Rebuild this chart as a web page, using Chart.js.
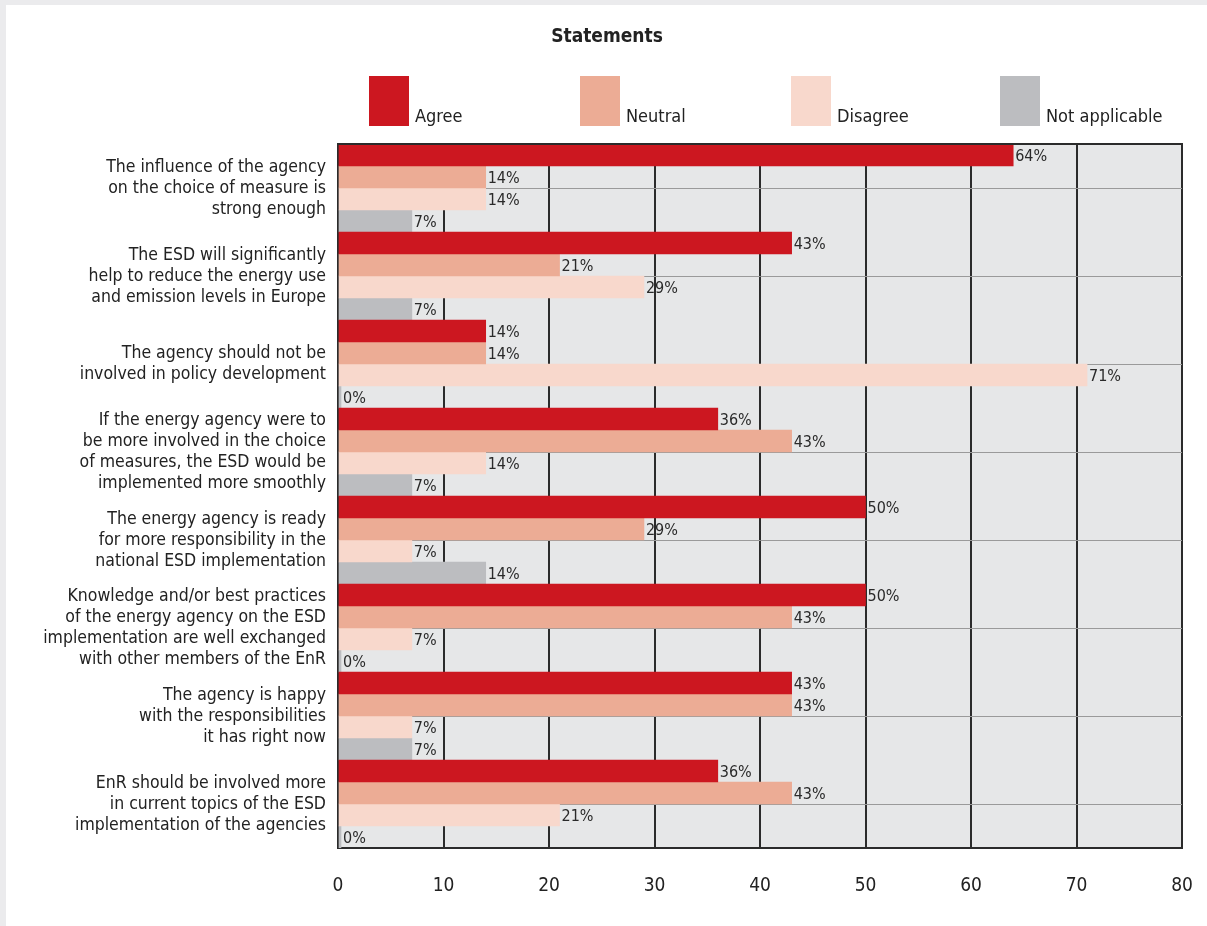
<!DOCTYPE html>
<html>
<head>
<meta charset="utf-8">
<title>Statements</title>
<script src="https://cdn.jsdelivr.net/npm/chart.js@4/dist/chart.umd.min.js"></script>
<style>
  html, body { margin: 0; padding: 0; background: #ebebed; overflow: hidden; }
  #caja { position: absolute; left: 6px; top: 5px; width: 1201px; height: 921px; background: #fff; }
</style>
</head>
<body>
<div id="caja"><canvas id="miGrafico"></canvas></div>
<script>
// Datos
var afirmaciones = [
  ['The influence of the agency', 'on the choice of measure is', 'strong enough'],
  ['The ESD will significantly', 'help to reduce the energy use', 'and emission levels in Europe'],
  ['The agency should not be', 'involved in policy development'],
  ['If the energy agency were to', 'be more involved in the choice', 'of measures, the ESD would be', 'implemented more smoothly'],
  ['The energy agency is ready', 'for more responsibility in the', 'national ESD implementation'],
  ['Knowledge and/or best practices', 'of the energy agency on the ESD', 'implementation are well exchanged', 'with other members of the EnR'],
  ['The agency is happy', 'with the responsibilities', 'it has right now'],
  ['EnR should be involved more', 'in current topics of the ESD', 'implementation of the agencies']
];
var agree = [64, 43, 14, 36, 50, 50, 43, 36];
var neutral = [14, 21, 14, 43, 29, 43, 43, 43];
var disagree = [14, 29, 71, 14, 7, 7, 7, 21];
var noAplica = [7, 7, 0, 7, 14, 0, 7, 0];
var ticksX = [0, 10, 20, 30, 40, 50, 60, 70, 80];

var fuente = '"DejaVu Sans Condensed", "DejaVu Sans", sans-serif';
var oscuro = '#2b2b2b';

// fondo gris del area, borde superior, titulo y leyenda
var extras = {
  id: 'extras',
  beforeDraw: function (chart) {
    var ctx = chart.ctx, a = chart.chartArea;
    ctx.save();
    ctx.fillStyle = '#e6e7e8';
    ctx.fillRect(a.left, a.top, a.right - a.left, a.bottom - a.top);
    ctx.restore();
  },
  afterDraw: function (chart) {
    var ctx = chart.ctx, a = chart.chartArea;
    ctx.save();
    ctx.strokeStyle = oscuro;
    ctx.lineWidth = 2;
    ctx.beginPath();
    ctx.moveTo(a.left - 1, a.top);
    ctx.lineTo(a.right + 1, a.top);
    ctx.stroke();

    ctx.fillStyle = '#222';
    ctx.font = 'bold 19px ' + fuente;
    ctx.textAlign = 'center';
    ctx.textBaseline = 'alphabetic';
    ctx.fillText('Statements', 601, 37);

    var xs = [363, 574, 785, 994];
    ctx.font = '18px ' + fuente;
    ctx.textAlign = 'left';
    chart.data.datasets.forEach(function (ds, i) {
      ctx.fillStyle = ds.backgroundColor;
      ctx.fillRect(xs[i], 71, 40, 50);
      ctx.fillStyle = '#222';
      ctx.fillText(ds.label, xs[i] + 46, 117);
    });
    ctx.restore();
  },
  afterDatasetsDraw: function (chart) {
    var ctx = chart.ctx;
    ctx.save();
    ctx.font = '16px ' + fuente;
    ctx.fillStyle = '#2a2a2a';
    ctx.textAlign = 'left';
    ctx.textBaseline = 'middle';
    chart.data.datasets.forEach(function (ds, i) {
      var meta = chart.getDatasetMeta(i);
      meta.data.forEach(function (barra, j) {
        var x = Math.max(barra.x, barra.base) + 2;
        ctx.fillText(ds.data[j] + '%', x, barra.y + 2);
      });
    });
    ctx.restore();
  }
};

var canvas = document.getElementById('miGrafico');
var grafico = new Chart(canvas, {
  type: 'bar',
  data: {
    labels: afirmaciones,
    datasets: [
      { label: 'Agree', data: agree, backgroundColor: '#cc1720' },
      { label: 'Neutral', data: neutral, backgroundColor: '#ecac95' },
      { label: 'Disagree', data: disagree, backgroundColor: '#f8d8cc' },
      { label: 'Not applicable', data: noAplica, backgroundColor: '#bcbdc0', minBarLength: 3 }
    ]
  },
  options: {
    indexAxis: 'y',
    responsive: true,
    maintainAspectRatio: false,
    animation: false,
    barPercentage: 1,
    categoryPercentage: 1,
    layout: { padding: { top: 139, right: 25, left: 0, bottom: 0 } },
    plugins: {
      legend: { display: false },
      tooltip: { enabled: false }
    },
    scales: {
      x: {
        min: 0,
        max: 80,
        afterBuildTicks: function (scale) {
          scale.ticks = ticksX.map(function (v) { return { value: v }; });
        },
        afterFit: function (scale) {
          scale.height = 78;
          scale.paddingLeft = 0;
          scale.paddingRight = 0;
        },
        grid: { color: oscuro, lineWidth: 2, drawTicks: false },
        border: { display: true, color: oscuro, width: 2 },
        ticks: {
          padding: 27,
          color: '#222',
          maxRotation: 0,
          font: { family: fuente, size: 19 }
        }
      },
      y: {
        afterFit: function (scale) { scale.width = 332; },
        grid: { color: '#9a9a9a', lineWidth: 1, offset: false, drawTicks: false },
        border: { display: true, color: oscuro, width: 2 },
        ticks: {
          padding: 12,
          color: '#222',
          autoSkip: false,
          font: { family: fuente, size: 17.5, lineHeight: 1.2 }
        }
      }
    }
  },
  plugins: [extras]
});
</script>
</body>
</html>
